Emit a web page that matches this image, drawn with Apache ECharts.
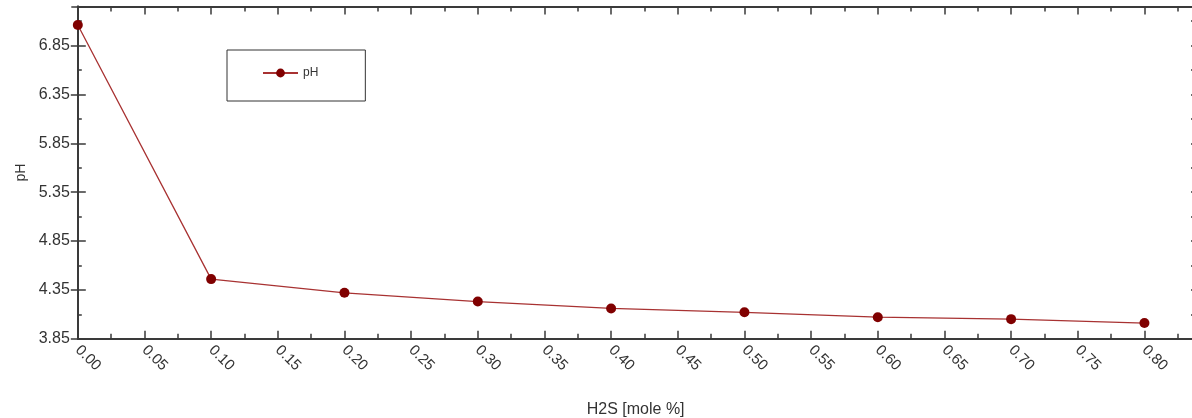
<!DOCTYPE html>
<html><head><meta charset="utf-8">
<script src="https://cdn.jsdelivr.net/npm/echarts@6/dist/echarts.min.js"></script>
<style>html,body{margin:0;padding:0;background:#fff}#c{width:1192px;height:418px}</style>
</head><body><div id="c"></div>
<script>
const xValues = [0.00, 0.10, 0.20, 0.30, 0.40, 0.50, 0.60, 0.70, 0.80];
const phValues = [7.06, 4.46, 4.32, 4.23, 4.16, 4.12, 4.07, 4.05, 4.01];
const seriesName = 'pH';
const xAxisName = 'H2S [mole %]';
const yAxisName = 'pH';

const FONT = 'Liberation Sans, Arial, sans-serif';
const AX = '#3a3a3a';
const X_MIN = 0, X_MAX = 0.8368, Y_MIN = 3.85, Y_MAX = 7.25;

function xAx(pos, interval, len, opts) {
  return Object.assign({
    type: 'value', position: pos, min: X_MIN, max: X_MAX, interval: interval,
    axisLine: { show: false },
    axisTick: { show: true, inside: true, length: len, lineStyle: { color: AX, width: 1.5 } },
    axisLabel: { show: false },
    splitLine: { show: false }
  }, opts || {});
}
function yAx(pos, interval, len, inside, opts) {
  return Object.assign({
    type: 'value', position: pos, min: Y_MIN, max: Y_MAX, interval: interval,
    axisLine: { show: false },
    axisTick: { show: true, inside: inside, length: len, lineStyle: { color: AX, width: 1.5 } },
    axisLabel: { show: false },
    splitLine: { show: false }
  }, opts || {});
}

const chart = echarts.init(document.getElementById('c'), null, { renderer: 'canvas' });
chart.setOption({
  animation: false,
  backgroundColor: '#fff',
  textStyle: { fontFamily: FONT },
  grid: { left: 77.8, top: 6.5, width: 1115.7, height: 332.2, containLabel: false, outerBoundsMode: 'none' },
  legend: {
    data: [seriesName], left: 227, top: 50,
    padding: [17, 47, 22, 35],
    borderColor: '#333', borderWidth: 1,
    itemWidth: 35, itemHeight: 11, itemGap: 4,
    textStyle: { fontSize: 12, color: '#333', fontFamily: FONT }
  },
  xAxis: [
    xAx('bottom', 0.05, 8, {
      axisLine: { show: true, lineStyle: { color: AX, width: 2 } },
      axisLabel: { show: true, rotate: -45, margin: 9, fontSize: 15, color: '#333', fontFamily: FONT,
        showMaxLabel: false, formatter: v => v.toFixed(2) },
      name: xAxisName, nameLocation: 'middle', nameGap: 63,
      nameTextStyle: { fontSize: 16, color: '#333', fontFamily: FONT }
    }),
    xAx('bottom', 0.025, 5),
    xAx('top', 0.05, 8, { axisLine: { show: true, lineStyle: { color: AX, width: 2 } } }),
    xAx('top', 0.025, 5)
  ],
  yAxis: [
    yAx('left', 0.5, 7, false, {
      axisLine: { show: true, lineStyle: { color: AX, width: 2 } },
      axisLabel: { show: true, margin: 8, fontSize: 16, color: '#333', fontFamily: FONT,
        showMaxLabel: false, formatter: v => v.toFixed(2) },
      name: yAxisName, nameLocation: 'middle', nameGap: 50,
      nameTextStyle: { fontSize: 14, color: '#333', fontFamily: FONT }
    }),
    yAx('left', 0.5, 8, true),
    yAx('left', 0.25, 4, true),
    yAx('right', 0.5, 6.5, true, { axisLine: { show: true, lineStyle: { color: AX, width: 2 } } }),
    yAx('right', 0.25, 2.5, true)
  ],
  series: [{
    name: seriesName, type: 'line', xAxisIndex: 0, yAxisIndex: 0,
    data: xValues.map((x, i) => [x, phValues[i]]),
    symbol: 'circle', symbolSize: 10, showAllSymbol: true,
    itemStyle: { color: '#800000' },
    lineStyle: { color: '#a83232', width: 1.3 },
    emphasis: { disabled: true }
  }]
});
</script></body></html>
